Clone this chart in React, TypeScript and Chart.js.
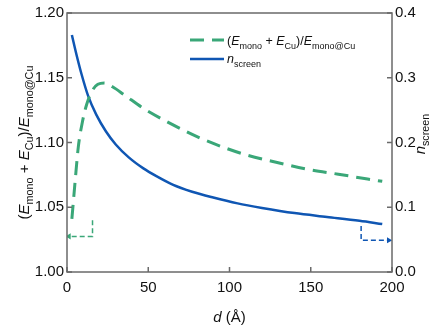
import React, { useEffect, useRef } from "react";
import { Chart, registerables } from "chart.js";

Chart.register(...registerables);

// ---- data ----
const ratioD = [3, 5, 7, 9.5, 12, 15.5, 19, 23, 28, 35, 47, 63.5, 80, 98, 111, 130, 148, 167, 185, 194];
const ratioVals = [1.041, 1.07, 1.097, 1.116, 1.129, 1.14, 1.145, 1.146, 1.143, 1.137, 1.1264, 1.1148, 1.1045, 1.0955, 1.0902, 1.0844, 1.0793, 1.0755, 1.0718, 1.07];

const nD = [3, 6, 9, 13, 18, 24, 30, 38, 47, 55, 65, 77, 90, 105, 120, 140, 160, 180, 194];
const nVals = [0.366, 0.334, 0.305, 0.272, 0.243, 0.217, 0.197, 0.177, 0.160, 0.148, 0.135, 0.124, 0.115, 0.106, 0.099, 0.091, 0.085, 0.079, 0.074];

// axis-indicator arrows (data coordinates)
const greenArrowD = [15.7, 15.7, 1.2];
const greenArrowY = [1.04, 1.0275, 1.0275];
const blueArrowD = [181, 181, 198];
const blueArrowY = [0.071, 0.049, 0.049];

const xTicks = [0, 50, 100, 150, 200];
const yTicks = [1.0, 1.05, 1.1, 1.15, 1.2];
const y1Ticks = [0.0, 0.1, 0.2, 0.3, 0.4];

const GREEN = "#3aa778";
const BLUE = "#0f56b3";
const AXIS = "#6a6a6a";
const FONT = "'Liberation Sans', Arial, sans-serif";

type Part = { t: string; i?: boolean; sub?: boolean };
const ratioLabel: Part[] = [
  { t: "(" },
  { t: "E", i: true },
  { t: "mono", sub: true },
  { t: " + " },
  { t: "E", i: true },
  { t: "Cu", sub: true },
  { t: ")/" },
  { t: "E", i: true },
  { t: "mono@Cu", sub: true },
];
const nLabel: Part[] = [{ t: "n", i: true }, { t: "screen", sub: true }];
const xLabel: Part[] = [{ t: "d", i: true }, { t: " (Å)" }];

function measureRich(ctx: CanvasRenderingContext2D, parts: Part[], size: number) {
  let w = 0;
  for (const p of parts) {
    const s = p.sub ? size * 0.72 : size;
    ctx.font = `${p.i ? "italic " : ""}${s}px ${FONT}`;
    w += ctx.measureText(p.t).width;
  }
  return w;
}
function drawRich(ctx: CanvasRenderingContext2D, parts: Part[], x: number, y: number, size: number, color: string) {
  let cx = x;
  ctx.fillStyle = color;
  ctx.textBaseline = "alphabetic";
  ctx.textAlign = "left";
  for (const p of parts) {
    const s = p.sub ? size * 0.72 : size;
    ctx.font = `${p.i ? "italic " : ""}${s}px ${FONT}`;
    ctx.fillText(p.t, cx, p.sub ? y + size * 0.28 : y);
    cx += ctx.measureText(p.t).width;
  }
}

const decorPlugin = {
  id: "decor",
  afterDraw(chart: any) {
    const { ctx, chartArea: a, scales } = chart;
    ctx.save();
    // frame
    ctx.strokeStyle = AXIS;
    ctx.lineWidth = 1.5;
    ctx.strokeRect(a.left, a.top, a.right - a.left, a.bottom - a.top);
    // inner ticks
    ctx.beginPath();
    const tl = 5;
    for (const v of xTicks) {
      const px = scales.x.getPixelForValue(v);
      ctx.moveTo(px, a.bottom);
      ctx.lineTo(px, a.bottom - tl);
    }
    for (const v of yTicks) {
      const py = scales.y.getPixelForValue(v);
      ctx.moveTo(a.left, py);
      ctx.lineTo(a.left + tl, py);
    }
    for (const v of y1Ticks) {
      const py = scales.y1.getPixelForValue(v);
      ctx.moveTo(a.right, py);
      ctx.lineTo(a.right - tl, py);
    }
    ctx.stroke();

    // axis titles
    const ts = 15;
    const wl = measureRich(ctx, ratioLabel, ts);
    ctx.save();
    ctx.translate(29, (a.top + a.bottom) / 2);
    ctx.rotate(-Math.PI / 2);
    drawRich(ctx, ratioLabel, -wl / 2, 0, ts, "#111");
    ctx.restore();

    const wn = measureRich(ctx, nLabel, ts);
    ctx.save();
    ctx.translate(425, 134);
    ctx.rotate(-Math.PI / 2);
    drawRich(ctx, nLabel, -wn / 2, 0, ts, "#111");
    ctx.restore();

    const wx = measureRich(ctx, xLabel, ts);
    drawRich(ctx, xLabel, (a.left + a.right) / 2 - wx / 2, 322, ts, "#111");

    // legend
    const lx0 = 190, lx1 = 224, tx = 227;
    ctx.lineWidth = 3;
    ctx.strokeStyle = GREEN;
    ctx.setLineDash([14, 8]);
    ctx.beginPath();
    ctx.moveTo(lx0, 40);
    ctx.lineTo(lx1, 40);
    ctx.stroke();
    ctx.setLineDash([]);
    ctx.lineWidth = 2.5;
    ctx.strokeStyle = BLUE;
    ctx.beginPath();
    ctx.moveTo(lx0, 59);
    ctx.lineTo(lx1, 59);
    ctx.stroke();
    drawRich(ctx, ratioLabel, tx, 45, 12.5, "#111");
    drawRich(ctx, nLabel, tx, 63, 12.5, "#111");
    ctx.restore();
  },
};

export default function App() {
  const ref = useRef<HTMLCanvasElement>(null);
  useEffect(() => {
    document.body.style.margin = "0";
    const pts = (xs: number[], ys: number[]) => xs.map((x, i) => ({ x, y: ys[i] }));
    const chart = new Chart(ref.current!, {
      type: "line",
      data: {
        datasets: [
          {
            data: pts(ratioD, ratioVals),
            yAxisID: "y",
            borderColor: GREEN,
            borderWidth: 3,
            borderDash: [14, 8],
            pointRadius: 0,
            cubicInterpolationMode: "monotone",
          },
          {
            data: pts(nD, nVals),
            yAxisID: "y1",
            borderColor: BLUE,
            borderWidth: 2.5,
            pointRadius: 0,
            cubicInterpolationMode: "monotone",
          },
          {
            data: pts(greenArrowD, greenArrowY),
            yAxisID: "y",
            borderColor: GREEN,
            backgroundColor: GREEN,
            borderWidth: 1.5,
            borderDash: [5, 3],
            pointRadius: [0, 0, 3.5],
            pointStyle: "triangle",
            pointRotation: -90,
            pointBorderWidth: 0,
            tension: 0,
          },
          {
            data: pts(blueArrowD, blueArrowY),
            yAxisID: "y1",
            borderColor: BLUE,
            backgroundColor: BLUE,
            borderWidth: 1.5,
            borderDash: [5, 3],
            pointRadius: [0, 0, 3.5],
            pointStyle: "triangle",
            pointRotation: 90,
            pointBorderWidth: 0,
            tension: 0,
          },
        ],
      } as any,
      options: {
        animation: false,
        responsive: false,
        layout: { padding: { top: 13, left: 0, right: 0, bottom: 0 } },
        plugins: { legend: { display: false }, tooltip: { enabled: false } },
        scales: {
          x: {
            type: "linear",
            min: 0,
            max: 200,
            afterBuildTicks: (s: any) => { s.ticks = xTicks.map((v) => ({ value: v })); },
            afterFit: (s: any) => { s.height = 57; },
            grid: { display: false, drawTicks: false },
            border: { display: false },
            ticks: { color: "#111", font: { family: FONT, size: 15 }, padding: 7, callback: (v: any) => String(v) },
          },
          y: {
            type: "linear",
            position: "left",
            min: 1.0,
            max: 1.2,
            afterBuildTicks: (s: any) => { s.ticks = yTicks.map((v) => ({ value: v })); },
            afterFit: (s: any) => { s.width = 67; },
            grid: { display: false, drawTicks: false },
            border: { display: false },
            ticks: { color: "#111", font: { family: FONT, size: 15 }, padding: 3, callback: (v: any) => Number(v).toFixed(2) },
          },
          y1: {
            type: "linear",
            position: "right",
            min: 0,
            max: 0.4,
            afterBuildTicks: (s: any) => { s.ticks = y1Ticks.map((v) => ({ value: v })); },
            afterFit: (s: any) => { s.width = 42; },
            grid: { display: false, drawTicks: false },
            border: { display: false },
            ticks: { color: "#111", font: { family: FONT, size: 15 }, padding: 3, callback: (v: any) => Number(v).toFixed(1) },
          },
        },
      } as any,
      plugins: [decorPlugin],
    });
    return () => chart.destroy();
  }, []);
  return (
    <div style={{ position: "absolute", left: 0, top: 0, width: 434, height: 329, background: "#fff" }}>
      <canvas ref={ref} width={434} height={329} style={{ width: 434, height: 329 }} />
    </div>
  );
}
